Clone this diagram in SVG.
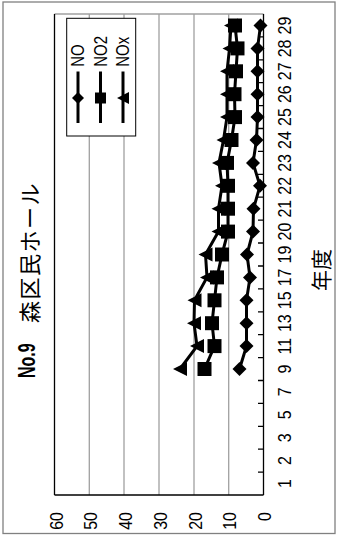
<svg xmlns="http://www.w3.org/2000/svg" width="340" height="539" viewBox="0 0 340 539">
<defs>
<style>
.lat{font-family:"Liberation Sans",Arial,sans-serif;fill:#000}
.cjk{font-family:"Noto Sans CJK JP","Noto Sans CJK SC",sans-serif;fill:#000}
.grid{stroke:#a0a0a0;stroke-width:1.3;fill:none}
.axis{stroke:#000;stroke-width:1.3;fill:none}
.ser{stroke:#000;stroke-width:3;fill:none;stroke-linejoin:round}
.mk{fill:#000;stroke:none}
</style>
<path id="dia" d="M0,-7L7,0L0,7L-7,0Z"/>
<path id="sq" d="M-7,-7H7V7H-7Z"/>
<path id="tri" d="M-7,0L7,-7L7,7Z"/>
<path id="diaS" d="M0,-6L6,0L0,6L-6,0Z"/>
<path id="sqS" d="M-5.5,-5.5H5.5V5.5H-5.5Z"/>
<path id="triS" d="M-6,0L6,-6L6,6Z"/>
</defs>
<rect x="3" y="2" width="332" height="531.5" fill="#fff" stroke="#808080" stroke-width="1.3"/>

<g id="plot-area">
<line class="grid" x1="54.5" y1="14" x2="263.5" y2="14"/>
<line class="grid" x1="89.3" y1="14" x2="89.3" y2="495"/>
<line class="grid" x1="124" y1="14" x2="124" y2="495"/>
<line class="grid" x1="159" y1="14" x2="159" y2="495"/>
<line class="grid" x1="194" y1="14" x2="194" y2="495"/>
<line class="grid" x1="228.7" y1="14" x2="228.7" y2="495"/>
<line class="axis" x1="54.5" y1="14" x2="54.5" y2="495"/>
<line class="axis" x1="54.5" y1="495" x2="263.5" y2="495"/>
<line class="axis" x1="263.5" y1="14" x2="263.5" y2="495"/>
<path class="axis" d="M258,472.1H263.5M258,449.2H263.5M258,426.3H263.5M258,403.4H263.5M258,380.5H263.5M258,357.6H263.5M258,334.7H263.5M258,311.8H263.5M258,288.9H263.5M258,266H263.5M258,243H263.5M258,220.1H263.5M258,197.2H263.5M258,174.3H263.5M258,151.4H263.5M258,128.5H263.5M258,105.6H263.5M258,82.7H263.5M258,59.8H263.5M258,36.9H263.5"/>
</g>

<g id="value-labels" class="lat" font-size="16" text-anchor="end">
<text transform="translate(63,512) rotate(-90) scale(1,1.2)">60</text>
<text transform="translate(96.8,512) rotate(-90) scale(1,1.2)">50</text>
<text transform="translate(131.5,512) rotate(-90) scale(1,1.2)">40</text>
<text transform="translate(166.5,512) rotate(-90) scale(1,1.2)">30</text>
<text transform="translate(201.5,512) rotate(-90) scale(1,1.2)">20</text>
<text transform="translate(236.2,512) rotate(-90) scale(1,1.2)">10</text>
<text transform="translate(271,512) rotate(-90) scale(1,1.2)">0</text>
</g>

<g id="category-labels" class="lat" font-size="16" text-anchor="middle">
<text transform="translate(291,483.5) rotate(-90) scale(1,1.2)">1</text>
<text transform="translate(291,460.6) rotate(-90) scale(1,1.2)">2</text>
<text transform="translate(291,437.7) rotate(-90) scale(1,1.2)">3</text>
<text transform="translate(291,414.8) rotate(-90) scale(1,1.2)">5</text>
<text transform="translate(291,391.9) rotate(-90) scale(1,1.2)">7</text>
<text transform="translate(291,369) rotate(-90) scale(1,1.2)">9</text>
<text transform="translate(291,346.1) rotate(-90) scale(1,1.2)">11</text>
<text transform="translate(291,323.2) rotate(-90) scale(1,1.2)">13</text>
<text transform="translate(291,300.3) rotate(-90) scale(1,1.2)">15</text>
<text transform="translate(291,277.4) rotate(-90) scale(1,1.2)">17</text>
<text transform="translate(291,254.5) rotate(-90) scale(1,1.2)">19</text>
<text transform="translate(291,231.6) rotate(-90) scale(1,1.2)">20</text>
<text transform="translate(291,208.7) rotate(-90) scale(1,1.2)">21</text>
<text transform="translate(291,185.8) rotate(-90) scale(1,1.2)">22</text>
<text transform="translate(291,162.9) rotate(-90) scale(1,1.2)">23</text>
<text transform="translate(291,140) rotate(-90) scale(1,1.2)">24</text>
<text transform="translate(291,117.1) rotate(-90) scale(1,1.2)">25</text>
<text transform="translate(291,94.2) rotate(-90) scale(1,1.2)">26</text>
<text transform="translate(291,71.3) rotate(-90) scale(1,1.2)">27</text>
<text transform="translate(291,48.4) rotate(-90) scale(1,1.2)">28</text>
<text transform="translate(291,25.5) rotate(-90) scale(1,1.2)">29</text>
</g>

<g id="title">
<text class="lat" font-size="16" font-weight="bold" transform="translate(35,378) rotate(-90) scale(1,1.45)">No.9</text>
<text class="cjk" font-size="22" letter-spacing="1.5" transform="translate(37.5,323) rotate(-90)">森区民ホール</text>
</g>

<g id="axis-title">
<text class="cjk" font-size="21" text-anchor="middle" transform="translate(329,270) rotate(-90)">年度</text>
</g>

<g id="connectors">
<polyline id="line-NO" class="ser" points="239.5,369 246.5,346.1 246.5,323.2 246.5,300.3 250,277.4 247,254.5 253,231.6 253.5,208.7 260,185.8 253,162.9 256.5,140 257.5,117.1 257.5,94.2 257.5,71.3 257.5,48.4 260.5,25.5"/>
<polyline id="line-NO2" class="ser" points="204.5,369 214.5,346.1 212,323.2 214.5,300.3 217,277.4 222,254.5 228,231.6 228,208.7 228,185.8 227,162.9 231.5,140 235,117.1 234.5,94.2 236,71.3 237.5,48.4 235,25.5"/>
<polyline id="line-NOx" class="ser" points="180,369 197,346.1 194,323.2 194.5,300.3 207,277.4 205.5,254.5 218.5,231.6 218.5,208.7 222,185.8 219,162.9 223.5,140 227,117.1 227,94.2 227,71.3 229.5,48.4 231,25.5"/>
</g>

<g id="series-NO" class="mk">
<use href="#dia" x="239.5" y="369"/><use href="#dia" x="246.5" y="346.1"/><use href="#dia" x="246.5" y="323.2"/><use href="#dia" x="246.5" y="300.3"/><use href="#dia" x="250" y="277.4"/><use href="#dia" x="247" y="254.5"/><use href="#dia" x="253" y="231.6"/><use href="#dia" x="253.5" y="208.7"/><use href="#dia" x="260" y="185.8"/><use href="#dia" x="253" y="162.9"/><use href="#dia" x="256.5" y="140"/><use href="#dia" x="257.5" y="117.1"/><use href="#dia" x="257.5" y="94.2"/><use href="#dia" x="257.5" y="71.3"/><use href="#dia" x="257.5" y="48.4"/><use href="#dia" x="260.5" y="25.5"/>
</g>
<g id="series-NO2" class="mk">
<use href="#sq" x="204.5" y="369"/><use href="#sq" x="214.5" y="346.1"/><use href="#sq" x="212" y="323.2"/><use href="#sq" x="214.5" y="300.3"/><use href="#sq" x="217" y="277.4"/><use href="#sq" x="222" y="254.5"/><use href="#sq" x="228" y="231.6"/><use href="#sq" x="228" y="208.7"/><use href="#sq" x="228" y="185.8"/><use href="#sq" x="227" y="162.9"/><use href="#sq" x="231.5" y="140"/><use href="#sq" x="235" y="117.1"/><use href="#sq" x="234.5" y="94.2"/><use href="#sq" x="236" y="71.3"/><use href="#sq" x="237.5" y="48.4"/><use href="#sq" x="235" y="25.5"/>
</g>
<g id="series-NOx" class="mk">
<use href="#tri" x="180" y="369"/><use href="#tri" x="197" y="346.1"/><use href="#tri" x="194" y="323.2"/><use href="#tri" x="194.5" y="300.3"/><use href="#tri" x="207" y="277.4"/><use href="#tri" x="205.5" y="254.5"/><use href="#tri" x="218.5" y="231.6"/><use href="#tri" x="218.5" y="208.7"/><use href="#tri" x="222" y="185.8"/><use href="#tri" x="219" y="162.9"/><use href="#tri" x="223.5" y="140"/><use href="#tri" x="227" y="117.1"/><use href="#tri" x="227" y="94.2"/><use href="#tri" x="227" y="71.3"/><use href="#tri" x="229.5" y="48.4"/><use href="#tri" x="231" y="25.5"/>
</g>

<g id="legend">
<rect x="66.7" y="18.3" width="69" height="117.7" fill="#fff" stroke="#000" stroke-width="1"/>
<line class="ser" x1="78" y1="71.5" x2="78" y2="123"/>
<line class="ser" x1="100.5" y1="71.5" x2="100.5" y2="123"/>
<line class="ser" x1="123" y1="71.5" x2="123" y2="123"/>
<use class="mk" href="#diaS" x="78" y="98"/>
<use class="mk" href="#sqS" x="100.5" y="98"/>
<use class="mk" href="#triS" x="123" y="98"/>
<g class="lat" font-size="15">
<text transform="translate(84.4,66.7) rotate(-90) scale(1,1.2)">NO</text>
<text transform="translate(106.9,66.7) rotate(-90) scale(1,1.2)">NO2</text>
<text transform="translate(129.4,66.7) rotate(-90) scale(1,1.2)">NOx</text>
</g>
</g>
</svg>
